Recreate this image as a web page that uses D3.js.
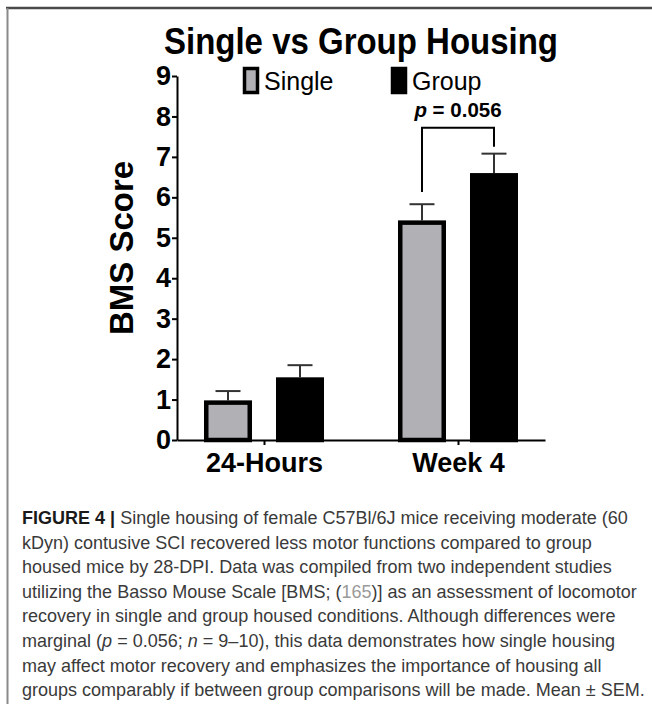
<!DOCTYPE html>
<html>
<head>
<meta charset="utf-8">
<script src="https://cdn.jsdelivr.net/npm/d3@7"></script>
<style>
  body { margin: 0; background: #fff; }
  svg { display: block; font-family: 'Liberation Sans', Arial, Helvetica, sans-serif; }
</style>
</head>
<body>
<div id="chart"></div>
<script>
const categories = ['24-Hours', 'Week 4']
const seriesNames = ['Single', 'Group']
const singleMeans = [0.98, 5.43]
const singleSem = [0.23, 0.40]
const groupMeans = [1.55, 6.60]
const groupSem = [0.30, 0.48]
const yTicks = [0, 1, 2, 3, 4, 5, 6, 7, 8, 9]
// significance bracket over Week 4
const bracketCat = 'Week 4'
const bracketTop = 7.72
const bracketLegs = [6.13, 7.25]
const pValue = '0.056'

const captionLines = [
  [{t: 'FIGURE 4 | ', b: 1}, {t: 'Single housing of female C57Bl/6J mice receiving moderate (60'}],
  [{t: 'kDyn) contusive SCI recovered less motor functions compared to group'}],
  [{t: 'housed mice by 28-DPI. Data was compiled from two independent studies'}],
  [{t: 'utilizing the Basso Mouse Scale [BMS; ('}, {t: '165', link: 1}, {t: ')] as an assessment of locomotor'}],
  [{t: 'recovery in single and group housed conditions. Although differences were'}],
  [{t: 'marginal ('}, {t: 'p', i: 1}, {t: ' = 0.056; '}, {t: 'n', i: 1}, {t: ' = 9\u201310), this data demonstrates how single housing'}],
  [{t: 'may affect motor recovery and emphasizes the importance of housing all'}],
  [{t: 'groups comparably if between group comparisons will be made. Mean \u00b1 SEM.'}]
]

const width = 652, height = 708
const plot = {left: 177, right: 545, top: 76, bottom: 440}

const svg = d3.select('#chart').append('svg')
  .attr('width', width)
  .attr('height', height)
svg.append('rect').attr('width', width).attr('height', height).attr('fill', '#fff')

// page frame
svg.append('line')
  .attr('x1', 6).attr('x2', width).attr('y1', 8).attr('y2', 8)
  .attr('stroke', '#4a4a4a').attr('stroke-width', 2.5)
svg.append('line')
  .attr('x1', 7.5).attr('x2', 7.5).attr('y1', 8).attr('y2', 704)
  .attr('stroke', '#8a8a8a').attr('stroke-width', 2)

const y = d3.scaleLinear().domain([0, 9]).range([plot.bottom, plot.top])
const x = d3.scalePoint().domain(categories).range([plot.left, plot.right]).padding(0.4485)
const xs = d3.scaleBand().domain(seriesNames).range([-60, 60]).paddingInner(1 / 3)

const rows = categories.flatMap((c, i) => [
  {cat: c, s: 'Single', v: singleMeans[i], e: singleSem[i]},
  {cat: c, s: 'Group', v: groupMeans[i], e: groupSem[i]}
])
const fills = {Single: '#b1b0b5', Group: '#000'}
const sw = 4.5

const g = svg.append('g')

// error bars (upper only)
const err = g.append('g').selectAll('g')
  .data(rows)
  .enter().append('g')
  .attr('stroke', '#333')
  .attr('stroke-width', 2)
err.append('line')
  .attr('x1', d => x(d.cat) + xs(d.s) + xs.bandwidth() / 2)
  .attr('x2', d => x(d.cat) + xs(d.s) + xs.bandwidth() / 2)
  .attr('y1', d => y(d.v))
  .attr('y2', d => y(d.v + d.e))
err.append('line')
  .attr('x1', d => x(d.cat) + xs(d.s) + xs.bandwidth() / 2 - 12.5)
  .attr('x2', d => x(d.cat) + xs(d.s) + xs.bandwidth() / 2 + 12.5)
  .attr('y1', d => y(d.v + d.e))
  .attr('y2', d => y(d.v + d.e))

g.append('g').selectAll('rect')
  .data(rows)
  .enter().append('rect')
  .attr('x', d => x(d.cat) + xs(d.s) + sw / 2)
  .attr('width', xs.bandwidth() - sw)
  .attr('y', d => y(d.v) + sw / 2)
  .attr('height', d => y(0) - y(d.v) - sw / 2)
  .attr('fill', d => fills[d.s])
  .attr('stroke', '#000')
  .attr('stroke-width', sw)

// axes
const yAxis = svg.append('g')
  .attr('transform', `translate(${plot.left},0)`)
  .call(d3.axisLeft(y).tickValues(yTicks).tickSize(5).tickPadding(1).tickSizeOuter(0))
const xAxis = svg.append('g')
  .attr('transform', `translate(0,${plot.bottom})`)
  .call(d3.axisBottom(x).tickSize(5).tickPadding(8).tickSizeOuter(0))
;[yAxis, xAxis].forEach(a => {
  a.attr('font-family', null).attr('font-size', null)
  a.selectAll('path, line').attr('stroke', '#000').attr('stroke-width', 2)
  a.selectAll('text')
    .attr('fill', '#000')
    .style('font-size', '27px')
    .style('font-weight', 'bold')
})

// bracket
const xl = x(bracketCat) + xs('Single') + xs.bandwidth() / 2
const xr = x(bracketCat) + xs('Group') + xs.bandwidth() / 2
svg.append('path')
  .attr('d', `M${xl},${y(bracketLegs[0])}V${y(bracketTop)}H${xr}V${y(bracketLegs[1])}`)
  .attr('fill', 'none')
  .attr('stroke', '#000')
  .attr('stroke-width', 2)
const pText = svg.append('text')
  .attr('x', x(bracketCat))
  .attr('y', y(bracketTop) - 11)
  .attr('text-anchor', 'middle')
  .style('font-size', '20.5px')
  .style('font-weight', 'bold')
pText.append('tspan').style('font-style', 'italic').text('p')
pText.append('tspan').text(' = ' + pValue)

// title, a little condensed like the original
svg.append('text')
  .attr('x', (plot.left + plot.right) / 2)
  .attr('y', 54)
  .attr('text-anchor', 'middle')
  .attr('textLength', 394)
  .attr('lengthAdjust', 'spacingAndGlyphs')
  .style('font-size', '36px')
  .style('font-weight', 'bold')
  .text('Single vs Group Housing')

// y label
svg.append('text')
  .attr('transform', 'translate(133,248) rotate(-90)')
  .attr('text-anchor', 'middle')
  .style('font-size', '33px')
  .style('font-weight', 'bold')
  .text('BMS Score')

// legend
const legend = svg.append('g').selectAll('g')
  .data(seriesNames)
  .enter().append('g')
  .attr('transform', (d, i) => `translate(${[243, 391][i]},67)`)
legend.append('rect')
  .attr('x', 1.5).attr('y', 1.5)
  .attr('width', 13).attr('height', 24)
  .attr('fill', d => fills[d])
  .attr('stroke', '#000')
  .attr('stroke-width', 3.5)
legend.append('text')
  .attr('x', 21)
  .attr('y', 23)
  .style('font-size', '25px')
  .text(d => d)

// caption
const cap = svg.append('g').attr('fill', '#3a3a3a')
const capLines = cap.selectAll('text')
  .data(captionLines)
  .enter().append('text')
  .attr('x', 22)
  .attr('y', (d, i) => 524 + i * 24.6)
  .style('font-size', '17px')
capLines.selectAll('tspan')
  .data(d => d)
  .enter().append('tspan')
  .attr('fill', d => d.link ? '#9a9a9a' : d.b ? '#1a1a1a' : null)
  .style('font-weight', d => d.b ? 'bold' : null)
  .style('font-style', d => d.i ? 'italic' : null)
  .text(d => d.t)
// fit the caption so the last line ends where it does in the figure
const lastLen = capLines.nodes()[7].getComputedTextLength()
capLines.style('font-size', (17 * 623 / lastLen) + 'px')
</script>
</body>
</html>
